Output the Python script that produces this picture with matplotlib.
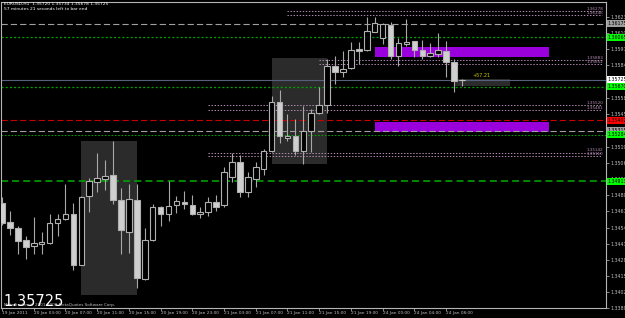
import numpy as np
import matplotlib
matplotlib.use('Agg')
import matplotlib.pyplot as plt
from matplotlib.patches import Rectangle

plt.rcParams['lines.scale_dashes'] = False
plt.rcParams['font.family'] = 'DejaVu Sans'

# EURUSD H1 bars, 19 Jan 23:00 .. 24 Jan 10:00
opens = [1.34739, 1.34581, 1.34534, 1.34439, 1.34392, 1.34408, 1.34416, 1.34574,
         1.34605, 1.34645, 1.34242, 1.34794, 1.34905, 1.34929, 1.34960, 1.34763,
         1.34503, 1.34763, 1.34124, 1.34439, 1.34708, 1.34652, 1.34724, 1.34747,
         1.34724, 1.34652, 1.34668, 1.34747, 1.34724, 1.34944, 1.35063, 1.34826,
         1.34929, 1.35008, 1.35157, 1.35544, 1.35260, 1.35276, 1.35157, 1.35315,
         1.35457, 1.35520, 1.35836, 1.35789, 1.35820, 1.35970, 1.35962, 1.36112,
         1.36057, 1.36167, 1.35915, 1.36010, 1.36033, 1.35962, 1.35915, 1.35931,
         1.35954, 1.35868, 1.35720]
highs = [1.34787, 1.34676, 1.34550, 1.34471, 1.34621, 1.34503, 1.34652, 1.34645,
         1.34889, 1.34739, 1.34790, 1.34936, 1.35142, 1.35078, 1.35236, 1.34858,
         1.34889, 1.34889, 1.34534, 1.34731, 1.34710, 1.34913, 1.34794, 1.34834,
         1.34802, 1.34708, 1.34787, 1.34802, 1.35023, 1.35142, 1.35126, 1.34984,
         1.35063, 1.35173, 1.35599, 1.35647, 1.35449, 1.35410, 1.35512, 1.35489,
         1.35670, 1.35891, 1.35915, 1.35954, 1.36025, 1.36025, 1.36230, 1.36230,
         1.36180, 1.36191, 1.36057, 1.36215, 1.36035, 1.36041, 1.36017, 1.36104,
         1.36033, 1.35891, 1.35734]
lows = [1.34558, 1.34479, 1.34329, 1.34290, 1.34329, 1.34329, 1.34410, 1.34471,
        1.34600, 1.34203, 1.34240, 1.34668, 1.34826, 1.34842, 1.34731, 1.34329,
        1.34337, 1.34053, 1.34116, 1.34435, 1.34550, 1.34589, 1.34660, 1.34692,
        1.34640, 1.34613, 1.34629, 1.34676, 1.34705, 1.34905, 1.34787, 1.34787,
        1.34866, 1.34960, 1.35150, 1.35221, 1.35236, 1.35126, 1.35047, 1.35150,
        1.35450, 1.35457, 1.35694, 1.35749, 1.35812, 1.35852, 1.35955, 1.36105,
        1.36010, 1.35891, 1.35836, 1.35994, 1.35907, 1.35891, 1.35910, 1.35907,
        1.35749, 1.35631, 1.35678]
closes = [1.34574, 1.34534, 1.34432, 1.34384, 1.34416, 1.34424, 1.34574, 1.34605,
          1.34652, 1.34242, 1.34787, 1.34913, 1.34936, 1.34952, 1.34763, 1.34518,
          1.34771, 1.34132, 1.34439, 1.34708, 1.34652, 1.34716, 1.34755, 1.34731,
          1.34645, 1.34668, 1.34747, 1.34708, 1.34984, 1.35063, 1.34826, 1.34944,
          1.35023, 1.35157, 1.35544, 1.35276, 1.35276, 1.35157, 1.35315, 1.35457,
          1.35520, 1.35836, 1.35789, 1.35812, 1.35962, 1.35954, 1.36120, 1.36183,
          1.36175, 1.35915, 1.36017, 1.36025, 1.35962, 1.35915, 1.35939, 1.35962,
          1.35868, 1.35718, 1.35725]

time_ticks = [0, 4, 8, 12, 16, 20, 24, 28, 32, 36, 40, 44, 48, 52, 56]
time_labels = ['19 Jan 2011', '20 Jan 03:00', '20 Jan 07:00', '20 Jan 11:00',
               '20 Jan 15:00', '20 Jan 19:00', '20 Jan 23:00', '21 Jan 03:00',
               '21 Jan 07:00', '21 Jan 11:00', '21 Jan 15:00', '21 Jan 19:00',
               '24 Jan 00:00', '24 Jan 04:00', '24 Jan 08:00']
price_ticks = [1.33895, 1.34025, 1.34150, 1.34280, 1.34410, 1.34540, 1.34670,
               1.34800, 1.34930, 1.35060, 1.35190, 1.35320, 1.35450, 1.35580,
               1.35710, 1.35840, 1.35970, 1.36100, 1.36230]

# (start bar, price) pairs of dotted purple levels
purple_levels = [(36, 1.36278), (36, 1.36246), (40, 1.35883), (40, 1.35852),
                 (26, 1.35520), (26, 1.35481), (26, 1.35142), (26, 1.35110)]
# (price, colour, style, width) full width levels
full_levels = [(1.36175, '#a0a0a0', (0, (4.5, 2.2)), 0.8),
               (1.36065, '#00a000', (0, (1.5, 1.5)), 0.9),
               (1.35725, '#56607a', '-', 0.8),
               (1.35670, '#00a000', (0, (1.5, 1.5)), 0.9),
               (1.35402, '#c80000', (0, (4.5, 2.2)), 0.8),
               (1.35315, '#a0a0a0', (0, (4.5, 2.2)), 0.8),
               (1.35284, '#00a000', (0, (1.2, 1.2)), 0.7),
               (1.34913, '#00a000', (0, (5, 3)), 1.2)]
# axis value boxes: price, background
axis_boxes = [(1.36175, '#a0a0a0'), (1.36065, '#00ff00'), (1.35725, '#ffffff'),
              (1.35670, '#00ff00'), (1.35402, '#ff0000'), (1.35315, '#a0a0a0'),
              (1.35284, '#00ff00'), (1.34913, '#00ff00')]
# grey zones: bar from, bar to, low, high
grey_zones = [(10, 17, 1.33998, 1.35236), (34, 41, 1.35047, 1.35899),
              (57, 64, 1.35678, 1.35733)]
violet_zones = [(47, 69, 1.35907, 1.35986), (47, 69, 1.35307, 1.35386)]

W, H = 625, 318
fig = plt.figure(figsize=(W / 100, H / 100), dpi=100, facecolor='black')
ax = fig.add_axes([1 / W, 10 / H, 605 / W, 306 / H], facecolor='black')

x0 = -0.13
x1 = 76.17
ax.set_xlim(x0, x1)
ax.set_ylim(1.33934, 1.36349)

for a, b, lo, hi in grey_zones:
    ax.add_patch(Rectangle((a, lo), b - a, hi - lo, fc='#2b2b2b', ec='none', zorder=0))
for a, b, lo, hi in violet_zones:
    ax.add_patch(Rectangle((a, lo), b - a, hi - lo, fc='#9a00dc', ec='none', zorder=1))

for p, c, ls, lw in full_levels:
    ax.axhline(p, color=c, ls=ls, lw=lw, zorder=2)

for start, p in purple_levels:
    ax.hlines(p, start, x1 - 0.5, color='#b48cb4', ls=(0, (1, 1.2)), lw=0.7, zorder=2)
    ax.text(x1 - 0.3, p + 0.00002, '%.5f' % p, color='#b48cb4', fontsize=3.0,
            ha='right', va='bottom', zorder=3)

# candles
idx = np.arange(len(opens))
o = np.array(opens)
c = np.array(closes)
ax.vlines(idx, lows, highs, color='#a8a8a8', lw=0.8, zorder=3)
bull = c >= o
body_lo = np.minimum(o, c)
body_h = np.maximum(np.abs(c - o), 0.00002)
ax.bar(idx[bull], body_h[bull], bottom=body_lo[bull], width=0.7,
       color='black', edgecolor='#b0b0b0', linewidth=0.8, zorder=4)
ax.bar(idx[~bull], body_h[~bull], bottom=body_lo[~bull], width=0.7,
       color='#cfcfcf', edgecolor='#b0b0b0', linewidth=0.8, zorder=4)
ax.hlines(closes[-1], idx[-1] - 0.4, idx[-1] + 0.4, color='#c0c0c0', lw=0.8, zorder=4)

ax.text(59.3, 1.35740, '+57.21', color='#c8c800', fontsize=3.5, va='bottom', zorder=5)

# axes styling
for s in ax.spines.values():
    s.set_color('#b4b4b4')
    s.set_linewidth(0.8)
ax.yaxis.tick_right()
ax.set_yticks(price_ticks)
ax.set_yticklabels(['%.5f' % v for v in price_ticks])
ax.tick_params(axis='y', colors='#c0c0c0', labelsize=3.4, length=2, width=0.5, pad=1)
ax.set_xticks(time_ticks)
ax.set_xticklabels(time_labels)
ax.tick_params(axis='x', colors='#c0c0c0', labelsize=3.1, length=2, width=0.5, pad=0.5)
for lab in ax.get_xticklabels():
    lab.set_ha('left')

tr = ax.get_yaxis_transform()
for p, col in axis_boxes:
    ax.text(1.003, p, '%.5f' % p, transform=tr, fontsize=3.4, color='black',
            va='center', ha='left', clip_on=False, zorder=6,
            bbox=dict(boxstyle='square,pad=0.2', fc=col, ec='none'))

fig.text(4 / W, 1 - 4 / H, 'EURUSD,H1  1.35720 1.35734 1.35678 1.35725',
         color='white', fontsize=3.2, va='center')
fig.text(4 / W, 1 - 9.5 / H, '57 minutes 21 seconds left to bar end',
         color='white', fontsize=3.2, va='center')
fig.text(3 / W, 1 - 306 / H, '1.35725', color='white', fontsize=10.5,
         va='baseline', zorder=7)
fig.text(4 / W, 1 - 306 / H, 'MetaTrader, \u00a9 2001-2009 MetaQuotes Software Corp.',
         color='#c0c0c0', fontsize=3.0, va='baseline')

fig.savefig('out.png', dpi=100, facecolor='black')
